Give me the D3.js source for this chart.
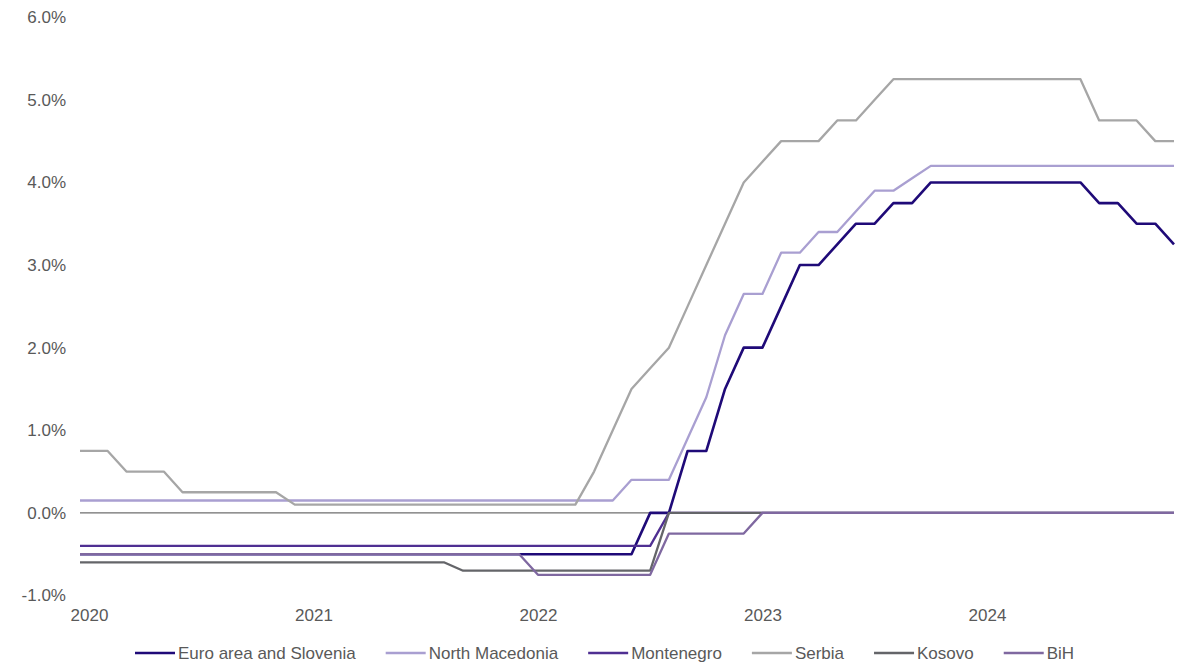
<!DOCTYPE html>
<html>
<head>
<meta charset="utf-8">
<script src="https://cdn.jsdelivr.net/npm/d3@7"></script>
<style>
  body { margin: 0; background: #ffffff; }
  svg text { font-family: "Liberation Sans", Arial, sans-serif; fill: #595959; }
</style>
</head>
<body>
<svg id="chart" width="1191" height="663"></svg>
<script>
// Months: Dec 2019 .. Nov 2024 (60 monthly observations)
const months = d3.timeMonth.range(new Date(2019, 11, 1), new Date(2024, 11, 1));

const seriesNames = ["Euro area and Slovenia", "North Macedonia", "Montenegro", "Serbia", "Kosovo", "BiH"];

const euroArea = [
  -0.5,
  -0.5,-0.5,-0.5,-0.5,-0.5,-0.5,-0.5,-0.5,-0.5,-0.5,-0.5,-0.5,
  -0.5,-0.5,-0.5,-0.5,-0.5,-0.5,-0.5,-0.5,-0.5,-0.5,-0.5,-0.5,
  -0.5,-0.5,-0.5,-0.5,-0.5,-0.5,0,0,0.75,0.75,1.5,2.0,
  2.0,2.5,3.0,3.0,3.25,3.5,3.5,3.75,3.75,4.0,4.0,4.0,
  4.0,4.0,4.0,4.0,4.0,4.0,3.75,3.75,3.5,3.5,3.25
];
const northMacedonia = [
  0.15,
  0.15,0.15,0.15,0.15,0.15,0.15,0.15,0.15,0.15,0.15,0.15,0.15,
  0.15,0.15,0.15,0.15,0.15,0.15,0.15,0.15,0.15,0.15,0.15,0.15,
  0.15,0.15,0.15,0.15,0.15,0.4,0.4,0.4,0.9,1.4,2.15,2.65,
  2.65,3.15,3.15,3.4,3.4,3.65,3.9,3.9,4.05,4.2,4.2,4.2,
  4.2,4.2,4.2,4.2,4.2,4.2,4.2,4.2,4.2,4.2,4.2
];
const montenegro = [
  -0.4,
  -0.4,-0.4,-0.4,-0.4,-0.4,-0.4,-0.4,-0.4,-0.4,-0.4,-0.4,-0.4,
  -0.4,-0.4,-0.4,-0.4,-0.4,-0.4,-0.4,-0.4,-0.4,-0.4,-0.4,-0.4,
  -0.4,-0.4,-0.4,-0.4,-0.4,-0.4,-0.4,0,0,0,0,0,
  0,0,0,0,0,0,0,0,0,0,0,0,
  0,0,0,0,0,0,0,0,0,0,0
];
const serbia = [
  0.75,
  0.75,0.75,0.5,0.5,0.5,0.25,0.25,0.25,0.25,0.25,0.25,0.1,
  0.1,0.1,0.1,0.1,0.1,0.1,0.1,0.1,0.1,0.1,0.1,0.1,
  0.1,0.1,0.1,0.5,1.0,1.5,1.75,2.0,2.5,3.0,3.5,4.0,
  4.25,4.5,4.5,4.5,4.75,4.75,5.0,5.25,5.25,5.25,5.25,5.25,
  5.25,5.25,5.25,5.25,5.25,5.25,4.75,4.75,4.75,4.5,4.5
];
const kosovo = [
  -0.6,
  -0.6,-0.6,-0.6,-0.6,-0.6,-0.6,-0.6,-0.6,-0.6,-0.6,-0.6,-0.6,
  -0.6,-0.6,-0.6,-0.6,-0.6,-0.6,-0.6,-0.6,-0.7,-0.7,-0.7,-0.7,
  -0.7,-0.7,-0.7,-0.7,-0.7,-0.7,-0.7,0,0,0,0,0,
  0,0,0,0,0,0,0,0,0,0,0,0,
  0,0,0,0,0,0,0,0,0,0,0
];
const bih = [
  -0.5,
  -0.5,-0.5,-0.5,-0.5,-0.5,-0.5,-0.5,-0.5,-0.5,-0.5,-0.5,-0.5,
  -0.5,-0.5,-0.5,-0.5,-0.5,-0.5,-0.5,-0.5,-0.5,-0.5,-0.5,-0.5,
  -0.75,-0.75,-0.75,-0.75,-0.75,-0.75,-0.75,-0.25,-0.25,-0.25,-0.25,-0.25,
  0,0,0,0,0,0,0,0,0,0,0,0,
  0,0,0,0,0,0,0,0,0,0,0
];

const yTicks = [-1, 0, 1, 2, 3, 4, 5, 6];
const yearTickMonths = [1, 13, 25, 37, 49]; // indexes of January in months[]

const seriesValues = [euroArea, northMacedonia, montenegro, serbia, kosovo, bih];
const seriesColors = ["#1f0a78", "#a99fd1", "#4f2f92", "#a6a6a6", "#646569", "#7f68a0"];
const seriesWidths = [2.6, 2.3, 2.3, 2.3, 2.3, 2.3];

const svg = d3.select("#chart");
const plotLeft = 80, plotRight = 1174;

const x = d3.scaleLinear().domain([0.52, months.length - 1]).range([plotLeft, plotRight]);
const y = d3.scaleLinear().domain([-1, 6]).range([595.5, 17.2]);

// clip so the lines begin at the plot's left edge
svg.append("defs").append("clipPath").attr("id", "plotclip")
  .append("rect").attr("x", plotLeft).attr("y", 0).attr("width", plotRight - plotLeft + 2).attr("height", 663);

// Y axis labels
const yAxis = d3.axisLeft(y).tickValues(yTicks).tickSize(0).tickPadding(14)
  .tickFormat(d => d.toFixed(1) + "%");
const gy = svg.append("g").attr("transform", `translate(${plotLeft},0)`).call(yAxis);
gy.select(".domain").remove();
gy.selectAll("text").style("font-size", "17px").attr("fill", "#595959")
  .style("font-family", '"Liberation Sans", Arial, sans-serif');

// X axis labels
const xAxis = d3.axisBottom(x).tickValues(yearTickMonths).tickSize(0).tickPadding(9)
  .tickFormat(i => months[i].getFullYear());
const gx = svg.append("g").attr("transform", `translate(0,600)`).call(xAxis);
gx.select(".domain").remove();
gx.selectAll("text").style("font-size", "17px").attr("fill", "#595959")
  .style("font-family", '"Liberation Sans", Arial, sans-serif');

// Zero line (category axis crossing)
svg.append("line")
  .attr("x1", x.range()[0]).attr("x2", x.range()[1])
  .attr("y1", y(0)).attr("y2", y(0))
  .attr("stroke", "#6e6e6e").attr("stroke-width", 1.2);

// Series lines
const line = d3.line().x((d, i) => x(i)).y(d => y(d));
const gLines = svg.append("g").attr("clip-path", "url(#plotclip)");
seriesValues.forEach((vals, k) => {
  gLines.append("path")
    .datum(vals)
    .attr("d", line)
    .attr("fill", "none")
    .attr("stroke", seriesColors[k])
    .attr("stroke-width", seriesWidths[k])
    .attr("stroke-linejoin", "round");
});

// Legend
const legend = svg.append("g").attr("transform", "translate(135,653)");
let lx = 0;
seriesNames.forEach((name, k) => {
  const g = legend.append("g").attr("transform", `translate(${lx},0)`);
  g.append("line").attr("x1", 0).attr("x2", 40).attr("y1", 0).attr("y2", 0)
    .attr("stroke", seriesColors[k]).attr("stroke-width", 2.6);
  const t = g.append("text").attr("x", 43).attr("y", 0).attr("dy", "0.35em")
    .style("font-size", "17px").text(name);
  lx += 43 + t.node().getComputedTextLength() + 30;
});
</script>
</body>
</html>
